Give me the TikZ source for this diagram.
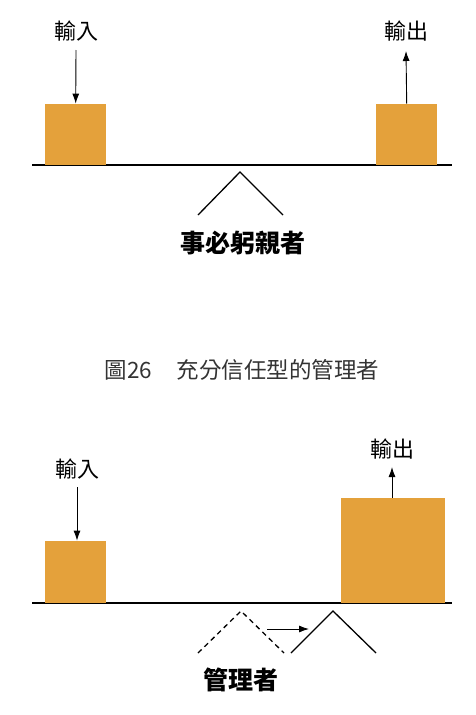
\documentclass[tikz,border=0pt]{standalone}
\usepackage{fontspec}
\newfontfamily\cjk{Noto Sans CJK TC}
\usetikzlibrary{arrows.meta}
\definecolor{boxor}{HTML}{E4A13B}
\definecolor{captxt}{HTML}{333333}
\tikzset{
  bar/.style={fill=boxor, draw=none},
  ground/.style={line width=2pt, black},
  flow/.style={line width=0.9pt, -{Latex[length=10pt,width=7pt]}},
  lbl/.style={font=\cjk\fontsize{22}{24}\selectfont, inner sep=0pt},
  boldlbl/.style={font=\cjk\bfseries\fontsize{25}{27}\selectfont, inner sep=0pt},
  captext/.style={font=\cjk\fontsize{22.5}{24}\selectfont, text=captxt, inner sep=0pt},
  lever/.style={line width=1.3pt},
  leverd/.style={line width=1.3pt, dash pattern=on 5pt off 4pt},
}
\begin{document}
\begin{tikzpicture}[x=1pt,y=-1pt]
\useasboundingbox (0,0) rectangle (475,715);
% ---------- top panel ----------
\coordinate (gA) at (32,165);
\coordinate (gB) at (452,165);
\draw[ground] (gA) -- (gB);
\node[bar, minimum width=61pt, minimum height=61pt, anchor=south west, inner sep=0pt] (inA) at (45,165) {};
\node[bar, minimum width=61pt, minimum height=61pt, anchor=south west, inner sep=0pt] (outA) at (376,165) {};
\node[lbl] (linA) at (76,31) {輸入};
\node[lbl] (loutA) at (406,31) {輸出};
\coordinate (inAs) at (76,50);
\draw[flow] (inAs) -- (inA.north);
\coordinate (outAe) at (406,51);
\draw[flow] (outA.north) -- (outAe);
\coordinate (tA1) at (198,215);
\coordinate (tA2) at (240,172);
\coordinate (tA3) at (283,215);
\draw[lever] (tA1) -- (tA2) -- (tA3);
\node[boldlbl] (nameA) at (243,243) {事必躬親者};
% ---------- caption ----------
\node[captext] (capt) at (242,370) {圖26\hspace{1.1em}充分信任型的管理者};
% ---------- bottom panel ----------
\coordinate (gC) at (32,603);
\coordinate (gD) at (452,603);
\draw[ground] (gC) -- (gD);
\node[bar, minimum width=61pt, minimum height=62pt, anchor=south west, inner sep=0pt] (inB) at (45,603) {};
\node[bar, minimum width=104pt, minimum height=105pt, anchor=south west, inner sep=0pt] (outB) at (341,603) {};
\node[lbl] (linB) at (77,469) {輸入};
\node[lbl] (loutB) at (392,449) {輸出};
\coordinate (inBs) at (77,487);
\draw[flow] (inBs) -- (inB.north -| inBs);
\coordinate (outBe) at (392,467);
\draw[flow] (outB.north -| outBe) -- (outBe);
\coordinate (dB1) at (198,653);
\coordinate (dB2) at (241,611);
\coordinate (dB3) at (284,653);
\draw[leverd] (dB1) -- (dB2) -- (dB3);
\coordinate (sB1) at (291,653);
\coordinate (sB2) at (333,611);
\coordinate (sB3) at (376,653);
\draw[lever] (sB1) -- (sB2) -- (sB3);
\coordinate (mvA) at (267,629);
\coordinate (mvB) at (309,629);
\draw[flow] (mvA) -- (mvB);
\node[boldlbl] (nameB) at (241,680) {管理者};
\end{tikzpicture}
\end{document}
